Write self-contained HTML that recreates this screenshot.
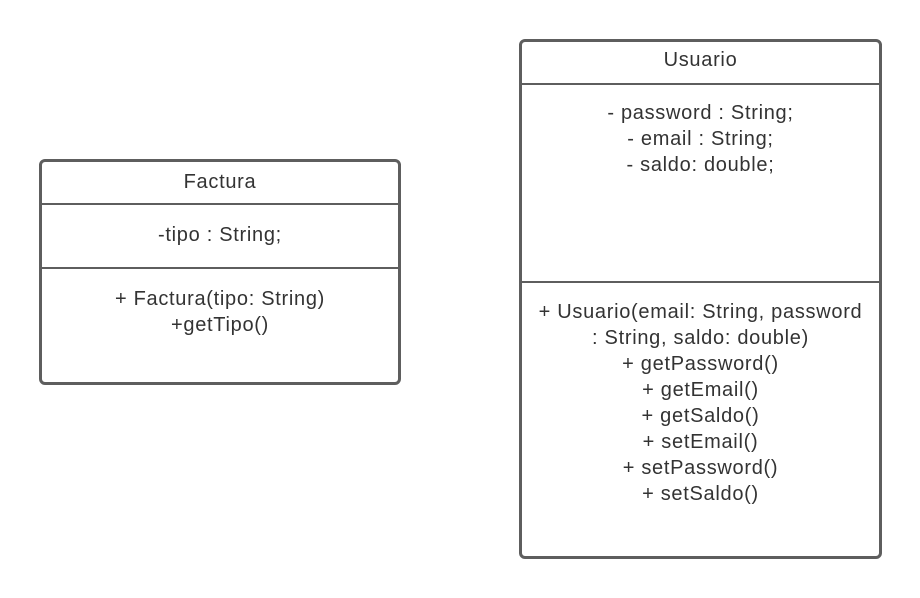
<!DOCTYPE html>
<html><head><style>
body{margin:0;width:920px;height:598px;background:#fff;position:relative;font-family:"Liberation Sans",Arial,sans-serif;color:#333;overflow:hidden}
.box{position:absolute;border:3px solid #5e5e5e;border-radius:6px;box-sizing:border-box;background:#fff}
.line{position:absolute;left:0;right:0;height:0;border-top:2px solid #5e5e5e}
.t{position:absolute;left:-10px;right:-10px;text-align:center;font-size:20px;letter-spacing:0.7px;line-height:26px;white-space:nowrap}
</style></head><body>
<div class="box" style="left:39px;top:159px;width:362px;height:226px">
 <div class="t" style="top:7px">Factura</div>
 <div class="line" style="top:41px"></div>
 <div class="t" style="top:60px">-tipo : String;</div>
 <div class="line" style="top:105px"></div>
 <div class="t" style="top:124px">+ Factura(tipo: String)<br>+getTipo()</div>
</div>
<div class="box" style="left:519px;top:39px;width:363px;height:520px">
 <div class="t" style="top:5px">Usuario</div>
 <div class="line" style="top:41px"></div>
 <div class="t" style="top:58px">- password : String;<br>- email : String;<br>- saldo: double;</div>
 <div class="line" style="top:239px"></div>
 <div class="t" style="top:257px">+ Usuario(email: String, password<br>: String, saldo: double)<br>+ getPassword()<br>+ getEmail()<br>+ getSaldo()<br>+ setEmail()<br>+ setPassword()<br>+ setSaldo()</div>
</div>
</body></html>
